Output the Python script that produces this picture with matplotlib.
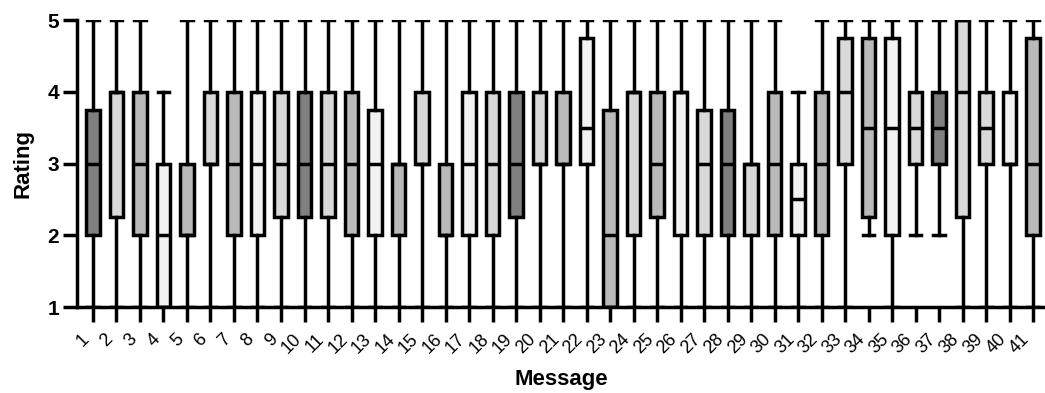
import matplotlib
matplotlib.use('Agg')
import matplotlib.pyplot as plt

plt.rcParams['font.family'] = ['Liberation Sans', 'DejaVu Sans']

# box statistics per message
messages = list(range(1, 42))
whislo = [1, 1, 1, 1, 1, 1, 1, 1, 1, 1,
          1, 1, 1, 1, 1, 1, 1, 1, 1, 1,
          1, 1, 1, 1, 1, 1, 1, 1, 1, 1,
          1, 1, 1, 2, 1, 2, 2, 1, 1, 1, 1]
q1 = [2, 2.25, 2, 1, 2, 3, 2, 2, 2.25, 2.25,
      2.25, 2, 2, 2, 3, 2, 2, 2, 2.25, 3,
      3, 3, 1, 2, 2.25, 2, 2, 2, 2, 2,
      2, 2, 3, 2.25, 2, 3, 3, 2.25, 3, 3, 2]
med = [3, 4, 3, 2, 2, 3, 3, 3, 3, 3,
       3, 3, 3, 3, 3, 2, 3, 3, 3, 3,
       3, 3.5, 2, 4, 3, 4, 3, 3, 3, 3,
       2.5, 3, 4, 3.5, 3.5, 3.5, 3.5, 4, 3.5, 3, 3]
q3 = [3.75, 4, 4, 3, 3, 4, 4, 4, 4, 4,
      4, 4, 3.75, 3, 4, 3, 4, 4, 4, 4,
      4, 4.75, 3.75, 4, 4, 4, 3.75, 3.75, 3, 4,
      3, 4, 4.75, 4.75, 4.75, 4, 4, 5, 4, 4, 4.75]
whishi = [5, 5, 5, 4, 5, 5, 5, 5, 5, 5,
          5, 5, 5, 5, 5, 5, 5, 5, 5, 5,
          5, 5, 5, 5, 5, 5, 5, 5, 5, 5,
          4, 5, 5, 5, 5, 5, 5, 5, 5, 5, 5]
shade = ['dark', 'light', 'mid', 'white', 'mid', 'light', 'mid', 'white', 'light', 'dark',
         'light', 'mid', 'white', 'mid', 'light', 'mid', 'white', 'light', 'dark', 'light',
         'mid', 'white', 'mid', 'light', 'mid', 'white', 'light', 'dark', 'light', 'mid',
         'white', 'mid', 'light', 'mid', 'white', 'light', 'dark', 'light', 'light', 'white', 'mid']
palette = {'dark': '#808080', 'mid': '#bababa', 'light': '#d9d9d9', 'white': '#f2f2f2'}

stats = []
for i in range(len(messages)):
    stats.append({'whislo': whislo[i], 'q1': q1[i], 'med': med[i],
                  'q3': q3[i], 'whishi': whishi[i], 'fliers': []})

fig = plt.figure(figsize=(10.45, 3.93), dpi=100)
ax = fig.add_axes([0.0737, 0.2188, 0.9263, 0.7303])

lw = 2.5
bp = ax.bxp(stats, positions=messages, widths=0.56, capwidths=0.5,
            patch_artist=True, showfliers=False,
            boxprops=dict(linewidth=lw, edgecolor='black'),
            whiskerprops=dict(linewidth=lw, color='black'),
            capprops=dict(linewidth=lw, color='black'),
            medianprops=dict(linewidth=lw, color='black'))
for patch, s in zip(bp['boxes'], shade):
    patch.set_facecolor(palette[s])

ax.set_xlim(0.32, 41.51)
ax.set_ylim(1, 5)
ax.set_yticks([1, 2, 3, 4, 5])
ax.set_xticks(messages)
ax.set_xticklabels([str(m) for m in messages], rotation=45, ha='right',
                   fontsize=13)
for lab in ax.get_yticklabels():
    lab.set_fontweight('bold')
    lab.set_fontsize(15)

for side in ['top', 'right']:
    ax.spines[side].set_visible(False)
for side in ['left', 'bottom']:
    ax.spines[side].set_linewidth(lw)
ax.tick_params(axis='y', length=10, width=lw, pad=3)
ax.tick_params(axis='x', length=11, width=lw, pad=6)

ax.set_ylabel('Rating', fontsize=16, fontweight='bold', labelpad=10)
ax.set_xlabel('Message', fontsize=16, fontweight='bold', labelpad=9)

fig.savefig('out.png', dpi=100)
